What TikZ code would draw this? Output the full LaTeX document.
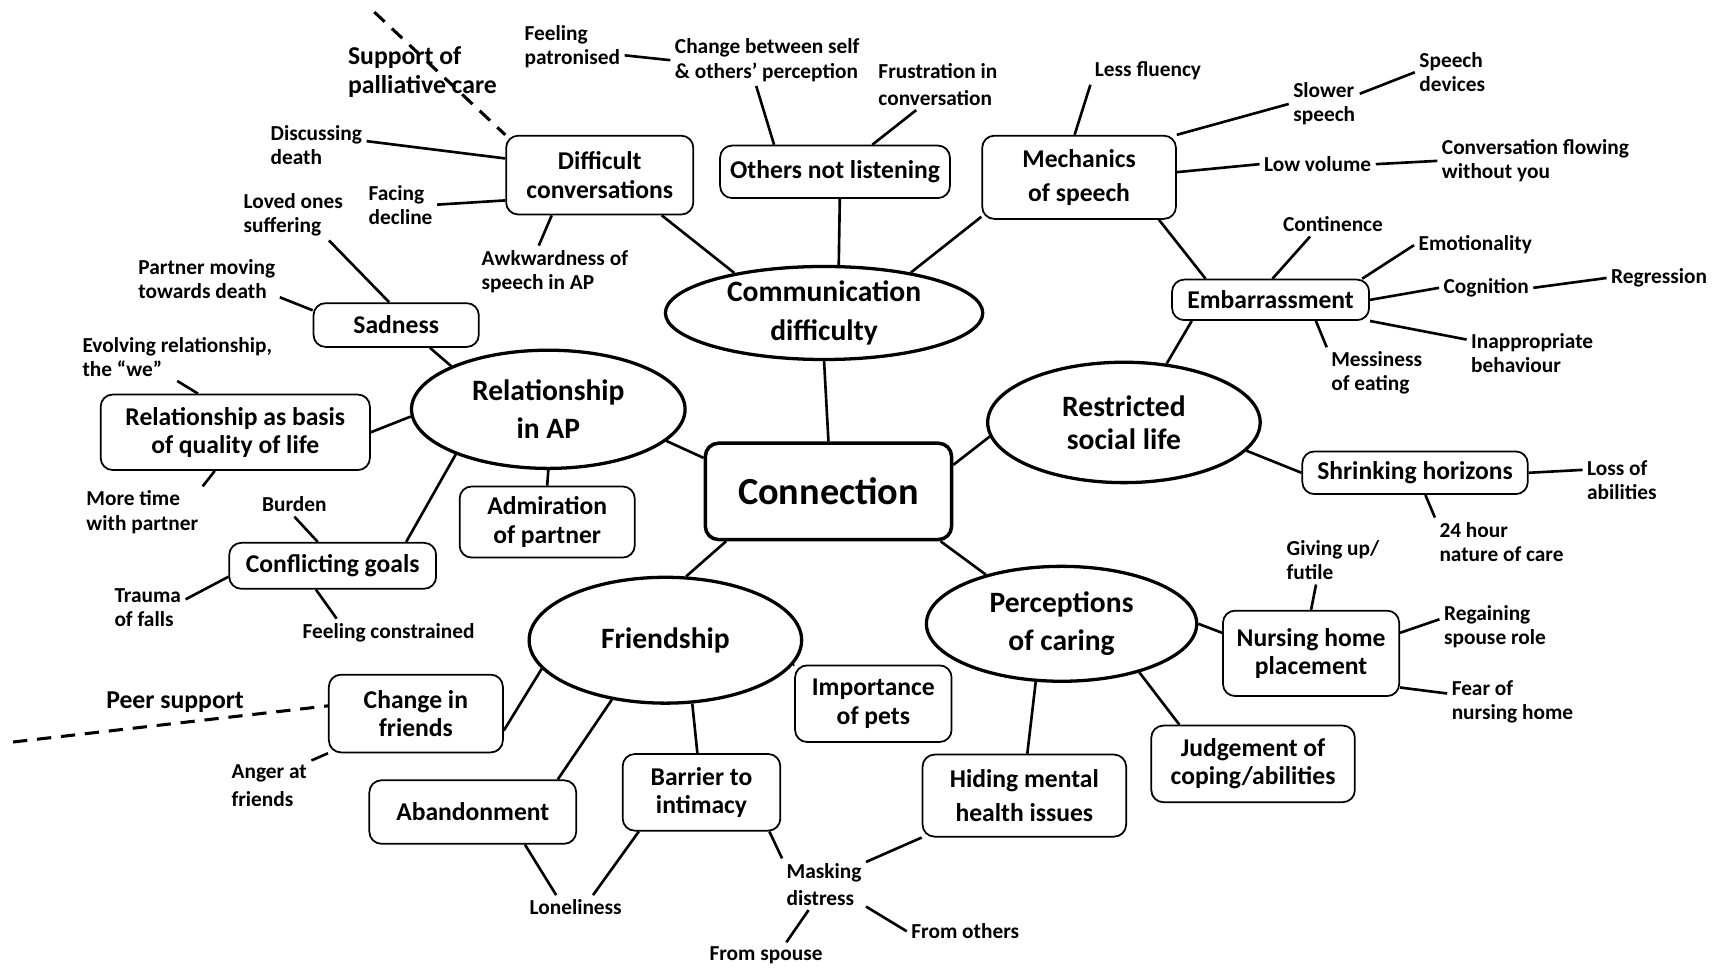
\documentclass[tikz,border=0pt]{standalone}
\usepackage{fontspec}
\setmainfont{Carlito}
\usepackage{tikz}
\usetikzlibrary{shapes.geometric}
\tikzset{
hub/.style={
draw,
rounded corners=12pt,
line width=3.2pt,
minimum width=225pt,
minimum height=88pt,
font=\fontsize{35}{42}\selectfont\bfseries
},
theme/.style={
draw,
ellipse,
line width=3pt,
inner sep=0pt,
align=center,
font=\fontsize{27}{35}\selectfont\bfseries
},
sub/.style={
draw,
rounded corners=11pt,
line width=1.6pt,
inner sep=0pt,
align=center,
font=\fontsize{23.4}{26}\selectfont\bfseries
},
subloose/.style={
sub,
font=\fontsize{23.4}{31}\selectfont\bfseries
},
leaf/.style={
inner sep=4pt,
align=left,
font=\fontsize{19.5}{22}\selectfont\bfseries
},
leafloose/.style={
leaf,
font=\fontsize{19.5}{25}\selectfont\bfseries
},
outside/.style={
inner sep=2pt,
align=left,
font=\fontsize{23.5}{26}\selectfont\bfseries
},
link/.style={
line width=2.4pt
},
extlink/.style={
line width=2.8pt,
dash pattern=on 13pt off 9pt
}
}

\begin{document}
\begin{tikzpicture}[x=1pt,y=-1pt]
\useasboundingbox (0,0) rectangle (1568,885);

% core and themes
\node[hub](hub) at (757,449){Connection};
\node[theme,minimum width=290pt,minimum height=85pt](comm) at (753,286){Communication\\difficulty};
\node[theme,minimum width=250pt,minimum height=108pt](rel) at (501,374){Relationship\\in AP};
\node[theme,minimum width=249pt,minimum height=110pt,font=\fontsize{27}{30}\selectfont\bfseries](rest) at (1027,386){Restricted\\social life};
\node[theme,minimum width=249pt,minimum height=115pt](frnd) at (608,585){Friendship};
\node[theme,minimum width=247pt,minimum height=105pt](perc) at (970,570){Perceptions\\of caring};

% sub-themes
\node[sub,minimum width=171pt,minimum height=72pt](dconv) at (548,160){Difficult\\conversations};
\node[sub,minimum width=210pt,minimum height=48pt](notlisten) at (763,157){Others not listening};
\node[subloose,minimum width=177pt,minimum height=76pt](mech) at (986,162){Mechanics\\of speech};
\node[sub,minimum width=180pt,minimum height=37pt](embar) at (1161,274){Embarrassment};
\node[sub,minimum width=151pt,minimum height=40pt](sad) at (362,297){Sadness};
\node[sub,minimum width=246pt,minimum height=69pt](qol) at (215,395){Relationship as basis\\of quality of life};
\node[sub,minimum width=160pt,minimum height=65pt](admire) at (500,477){Admiration\\of partner};
\node[sub,minimum width=189pt,minimum height=42pt](goals) at (304,517){Conflicting goals};
\node[sub,minimum width=206pt,minimum height=39pt](shrink) at (1293,432){Shrinking horizons};
\node[sub,minimum width=161pt,minimum height=78pt](nursing) at (1198,597){Nursing home\\placement};
\node[sub,minimum width=143pt,minimum height=70pt](pets) at (798,643){Importance\\of pets};
\node[sub,minimum width=159pt,minimum height=71pt](chfriends) at (380,652){Change in\\friends};
\node[sub,minimum width=189pt,minimum height=58pt](abandon) at (432,742){Abandonment};
\node[sub,minimum width=144pt,minimum height=70pt](intimacy) at (641,724){Barrier to\\intimacy};
\node[subloose,minimum width=186pt,minimum height=75pt](hiding) at (936,727){Hiding mental\\health issues};
\node[sub,minimum width=186pt,minimum height=70pt](judge) at (1145,698){Judgement of\\coping/abilities};

% leaves
\node[leaf](patron) at (523,43){Feeling\\patronised};
\node[leaf](selfview) at (701,55){Change between self\\\& others’ perception};
\node[leafloose](frustr) at (857,77){Frustration in\\conversation};
\node[leaf](fluency) at (1049,65){Less fluency};
\node[leaf](slower) at (1210,95){Slower\\speech};
\node[leaf](devices) at (1327,66){Speech\\devices};
\node[leaf](volume) at (1204,150){Low volume};
\node[leaf](flowing) at (1403,147){Conversation flowing\\without you};
\node[leaf](contin) at (1218,205){Continence};
\node[leaf](emotion) at (1348,224){Emotionality};
\node[leaf](cognit) at (1358,263){Cognition};
\node[leaf](regress) at (1516,254){Regression};
\node[leaf](inapprop) at (1400,323){Inappropriate\\behaviour};
\node[leaf](messy) at (1258,341){Messiness\\of eating};
\node[leaf](lossab) at (1482,439){Loss of\\abilities};
\node[leaf](care24) at (1372,495){24 hour\\nature of care};
\node[leaf](givingup) at (1218,512){Giving up/\\futile};
\node[leaf](regain) at (1366,573){Regaining\\spouse role};
\node[leaf](fearnh) at (1382,641){Fear of\\nursing home};
\node[leaf](death) at (289,133){Discussing\\death};
\node[leaf](decline) at (366,187){Facing\\decline};
\node[leaf](suffer) at (268,196){Loved ones\\suffering};
\node[leaf](partner) at (189,255){Partner moving\\towards death};
\node[leaf](awkward) at (507,248){Awkwardness of\\speech in AP};
\node[leaf](evolving) at (162,326){Evolving relationship,\\the “we”};
\node[leaf](moretime) at (130,468){More time\\with partner};
\node[leaf](burden) at (269,461){Burden};
\node[leaf](trauma) at (135,555){Trauma\\of falls};
\node[leaf](constr) at (355,578){Feeling constrained};
\node[leafloose](anger) at (246,718){Anger at\\friends};
\node[leaf](lonely) at (526,829){Loneliness};
\node[leafloose](masking) at (753,808){Masking\\distress};
\node[leaf](fromothers) at (882,851){From others};
\node[leaf](fromspouse) at (700,873){From spouse};

% links to other services
\node[outside](palliat) at (386,66){Support of\\palliative care};
\node[outside](peer) at (160,642){Peer support};
\coordinate (palliatend) at (342,11);
\coordinate (peerend) at (12,678);
\draw[extlink](palliatend)--(dconv.north west);
\draw[extlink](peerend)--(chfriends.175);

\foreach \x/\y in {hub.north/comm.south,hub.165/rel.-15,hub.12/rest.186,hub.-154/frnd.72,hub.-24/perc.147,
comm.156/dconv.-33,comm.73/notlisten.-80,comm.25/mech.-158,
dconv.170/death.5,dconv.-165/decline.east,dconv.-140/awkward.122,
notlisten.156/selfview.-113,notlisten.36/frustr.-130,patron.-9/selfview.west,
mech.96/fluency.south west,mech.north east/slower.west,mech.3/volume.west,mech.-28/embar.162,
slower.16/devices.west,volume.east/flowing.west,
embar.85/contin.-152,embar.13/emotion.west,embar.east/cognit.west,embar.south east/inapprop.168,
embar.-25/messy.north west,embar.-165/rest.54,cognit.east/regress.west,
rest.-13/shrink.west,shrink.east/lossab.165,shrink.-65/care24.north west,
perc.east/nursing.167,perc.-114/hiding.86,perc.-32/judge.152,
nursing.north/givingup.-125,nursing.13/regain.172,nursing.-21/fearnh.173,
rel.156/sad.-34,rel.183/qol.east,rel.south/admire.north,rel.-154/goals.18,
sad.107/suffer.-36,sad.170/partner.-14,
qol.134/evolving.south,qol.-118/moretime.north east,
goals.122/burden.south,goals.186/trauma.12,goals.-125/constr.165,
frnd.-167/chfriends.-11,frnd.-132/abandon.21,frnd.-67/intimacy.96,frnd.-11/pets.north west,
chfriends.south west/anger.north east,abandon.-32/lonely.148,
intimacy.-148/lonely.35,intimacy.-30/masking.north west,hiding.south west/masking.28,
masking.-121/fromspouse.33,masking.-28/fromothers.west}
\draw[link](\x)--(\y);
\end{tikzpicture}
\end{document}
